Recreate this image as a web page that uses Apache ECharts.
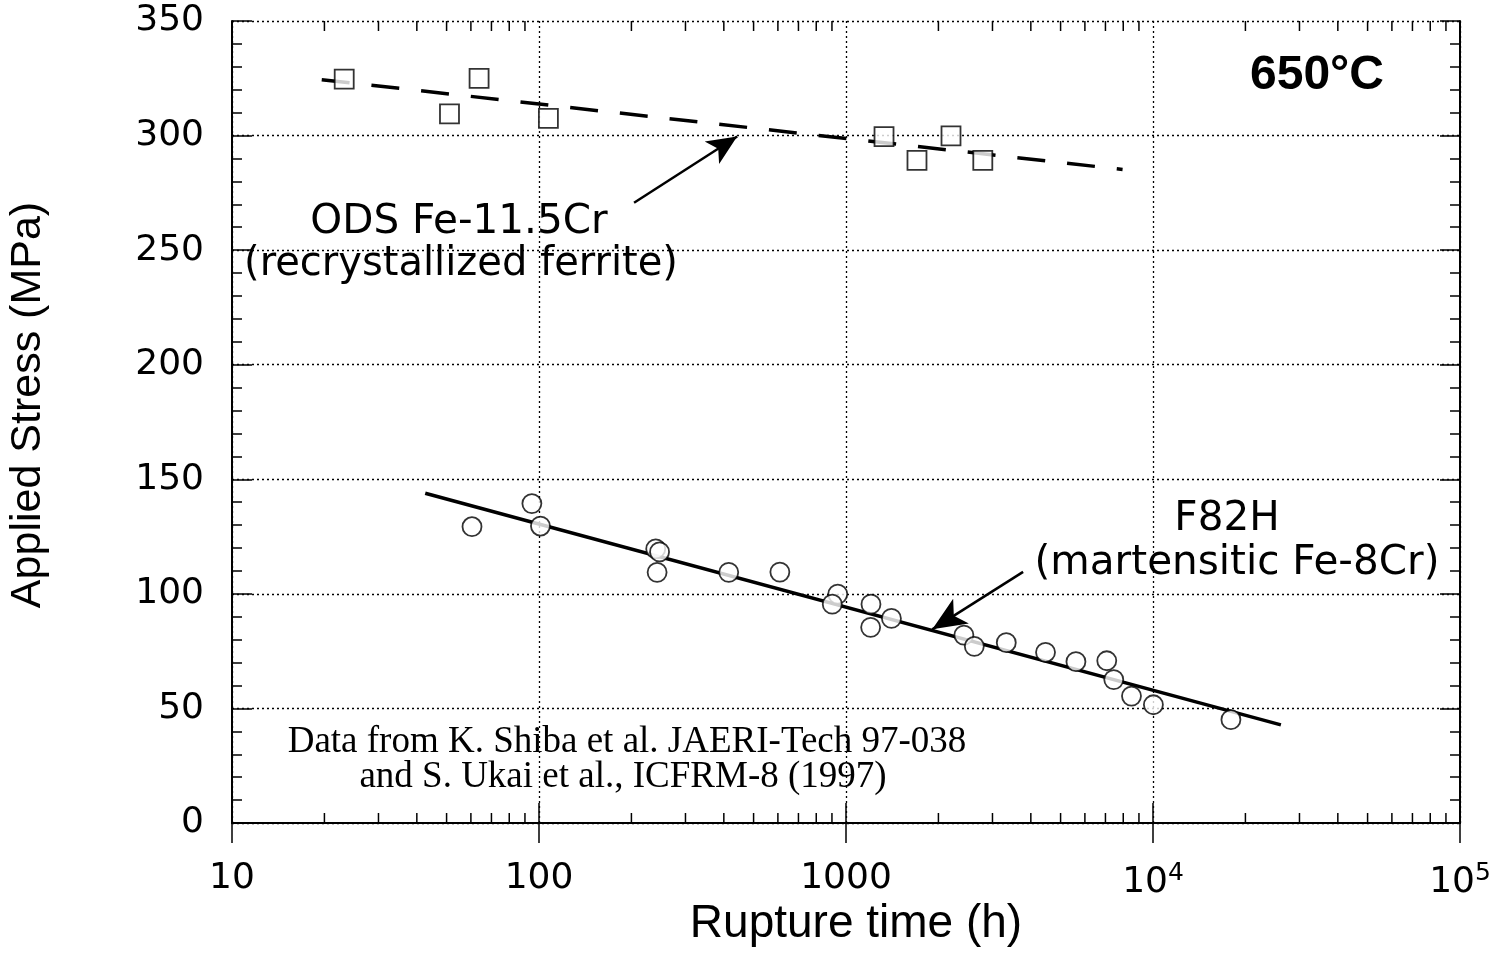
<!DOCTYPE html>
<html><head><meta charset="utf-8">
<script src="https://cdn.jsdelivr.net/npm/echarts@6/dist/echarts.min.js"></script>
<style>html,body{margin:0;padding:0;background:#fff}#c{width:1503px;height:964px}</style>
</head><body><div id="c"></div>
<script>
// ODS Fe-11.5Cr (recrystallized ferrite) – squares
const odsTime   = [23.2, 51.1, 63.8, 107.3, 1330, 1703, 2198, 2790];
const odsStress = [324.6, 309.5, 325.0, 307.5, 299.5, 289.2, 299.9, 289.2];
// F82H (martensitic Fe-8Cr) – circles
const f82hTime   = [60.5, 94.8, 101.1, 240, 247, 242.5, 415, 609, 940, 902, 1206, 1203, 1406, 2421, 2618, 3327, 4466, 5610, 7070, 7450, 8510, 10030, 17940];
const f82hStress = [129.3, 139.4, 129.6, 119.6, 118.3, 109.4, 109.4, 109.5, 99.9, 95.5, 95.5, 85.4, 89.3, 82.0, 77.1, 78.7, 74.5, 70.4, 70.8, 62.6, 55.4, 51.6, 45.1];
// fit lines
const odsFitTime = [19.6, 7960];
const odsFitStress = [324.4, 285.2];
const f82hFitTime = [42.6, 26100];
const f82hFitStress = [143.9, 42.8];
// annotation arrows [tail, head]
const odsArrow = [[204, 270.7], [442, 299.6]];
const f82hArrow = [[3775, 109.6], [1910, 84.5]];
// axes
const xMin = 10, xMax = 100000;
const yMin = 0, yMax = 350, yStep = 50;
const xMinorTicks = [20,30,40,50,60,70,80,90, 200,300,400,500,600,700,800,900, 2000,3000,4000,5000,6000,7000,8000,9000, 20000,30000,40000,50000,60000,70000,80000,90000];

const zip = (a, b) => a.map((v, i) => [v, b[i]]);
const chart = echarts.init(document.getElementById('c'), null, {renderer: 'canvas'});

const axisLineStyle = {color: '#000', width: 2};
const tickStyle = {color: '#000', width: 1.5};
const gridLine = {show: true, lineStyle: {type: [2, 3], color: '#000', width: 1.3}};

chart.setOption({
  backgroundColor: '#fff',
  animation: false,
  grid: {left: 232, top: 21, width: 1228, height: 802, containLabel: false},
  xAxis: [{
    type: 'log', logBase: 10, min: xMin, max: xMax, position: 'bottom',
    axisLine: {show: true, lineStyle: axisLineStyle},
    axisTick: {show: true, inside: true, length: 20, lineStyle: tickStyle},
    minorTick: {show: false},
    splitLine: gridLine,
    axisLabel: {
      margin: 38, color: '#000', fontFamily: 'DejaVu Sans', fontSize: 36,
      formatter: v => {
        const e = Math.round(Math.log10(v));
        return e >= 4 ? '10{sup|' + e + '}' : String(Math.round(v));
      },
      rich: {sup: {fontFamily: 'DejaVu Sans', fontSize: 25, color: '#000', padding: [0, 0, 18, 0]}}
    }
  }, {
    type: 'log', logBase: 10, min: xMin, max: xMax, position: 'top',
    axisLine: {show: true, lineStyle: axisLineStyle},
    axisTick: {show: true, inside: true, length: 20, lineStyle: tickStyle},
    axisLabel: {show: false}, splitLine: {show: false}
  }],
  yAxis: [{
    type: 'value', min: yMin, max: yMax, interval: yStep, position: 'left',
    axisLine: {show: true, lineStyle: axisLineStyle},
    axisTick: {show: true, inside: true, length: 20, lineStyle: tickStyle},
    minorTick: {show: true, splitNumber: 5, length: 10, lineStyle: tickStyle},
    splitLine: gridLine,
    axisLabel: {margin: 28, color: '#000', fontFamily: 'DejaVu Sans', fontSize: 36}
  }, {
    type: 'value', min: yMin, max: yMax, interval: yStep, position: 'right',
    axisLine: {show: true, lineStyle: axisLineStyle},
    axisTick: {show: true, inside: true, length: 20, lineStyle: tickStyle},
    minorTick: {show: true, splitNumber: 5, length: 10, lineStyle: tickStyle},
    splitLine: {show: false}, axisLabel: {show: false}
  }],
  series: [
    {
      type: 'custom', xAxisIndex: 0, yAxisIndex: 0, silent: true, clip: false, z: 1,
      data: xMinorTicks.map(t => [t, yMin]),
      renderItem: (params, api) => {
        const t = api.value(0);
        const b = api.coord([t, yMin]);
        const tp = api.coord([t, yMax]);
        return {type: 'group', children: [
          {type: 'line', shape: {x1: b[0], y1: b[1], x2: b[0], y2: b[1] - 10}, style: {stroke: '#000', lineWidth: 1.5}},
          {type: 'line', shape: {x1: tp[0], y1: tp[1], x2: tp[0], y2: tp[1] + 10}, style: {stroke: '#000', lineWidth: 1.5}}
        ]};
      }
    },
    {
      name: 'ODS fit', type: 'line', data: zip(odsFitTime, odsFitStress), showSymbol: false, symbol: 'none', z: 2,
      lineStyle: {color: '#000', width: 3.5, type: [28, 22]},
      markLine: {
        silent: true, symbol: ['none', 'arrow'], symbolSize: [20, 30], label: {show: false},
        lineStyle: {color: '#000', width: 2.5, type: 'solid'},
        data: [[{coord: odsArrow[0]}, {coord: odsArrow[1]}]]
      }
    },
    {
      name: 'F82H fit', type: 'line', data: zip(f82hFitTime, f82hFitStress), showSymbol: false, symbol: 'none', z: 2,
      lineStyle: {color: '#000', width: 3.5},
      markLine: {
        silent: true, symbol: ['none', 'arrow'], symbolSize: [22, 34], label: {show: false},
        lineStyle: {color: '#000', width: 2.5, type: 'solid'},
        data: [[{coord: f82hArrow[0]}, {coord: f82hArrow[1]}]]
      }
    },
    {
      name: 'ODS Fe-11.5Cr', type: 'scatter', data: zip(odsTime, odsStress), symbol: 'rect', symbolSize: 19, z: 5,
      itemStyle: {color: '#fff', borderColor: '#000', borderWidth: 1.8}
    },
    {
      name: 'F82H', type: 'scatter', data: zip(f82hTime, f82hStress), symbol: 'circle', symbolSize: 19, z: 5,
      itemStyle: {color: '#fff', borderColor: '#000', borderWidth: 1.8}
    }
  ],
  graphic: [
    {type: 'text', x: 1317, y: 76, style: {text: '650°C', font: 'bold 48px "Liberation Sans"', fill: '#000', align: 'center', verticalAlign: 'middle'}},
    {type: 'text', x: 459, y: 222, style: {text: 'ODS Fe-11.5Cr', font: '40.5px "DejaVu Sans"', fill: '#000', align: 'center', verticalAlign: 'middle'}},
    {type: 'text', x: 461, y: 265, style: {text: '(recrystallized ferrite)', font: '40px "DejaVu Sans"', fill: '#000', align: 'center', verticalAlign: 'middle'}},
    {type: 'text', x: 1227, y: 519, style: {text: 'F82H', font: '40.5px "DejaVu Sans"', fill: '#000', align: 'center', verticalAlign: 'middle'}},
    {type: 'text', x: 1237, y: 563, style: {text: '(martensitic Fe-8Cr)', font: '40.5px "DejaVu Sans"', fill: '#000', align: 'center', verticalAlign: 'middle'}},
    {type: 'text', x: 627, y: 742, style: {text: 'Data from K. Shiba et al. JAERI-Tech 97-038', font: '37px "Liberation Serif"', fill: '#000', align: 'center', verticalAlign: 'middle'}},
    {type: 'text', x: 623, y: 777, style: {text: 'and S. Ukai et al., ICFRM-8 (1997)', font: '37px "Liberation Serif"', fill: '#000', align: 'center', verticalAlign: 'middle'}},
    {type: 'text', x: 856, y: 924, style: {text: 'Rupture time (h)', font: '46px "Liberation Sans"', fill: '#000', align: 'center', verticalAlign: 'middle'}},
    {type: 'text', x: 28, y: 405, rotation: Math.PI / 2, style: {text: 'Applied Stress (MPa)', font: '43px "Liberation Sans"', fill: '#000', align: 'center', verticalAlign: 'middle'}}
  ]
});
</script></body></html>
